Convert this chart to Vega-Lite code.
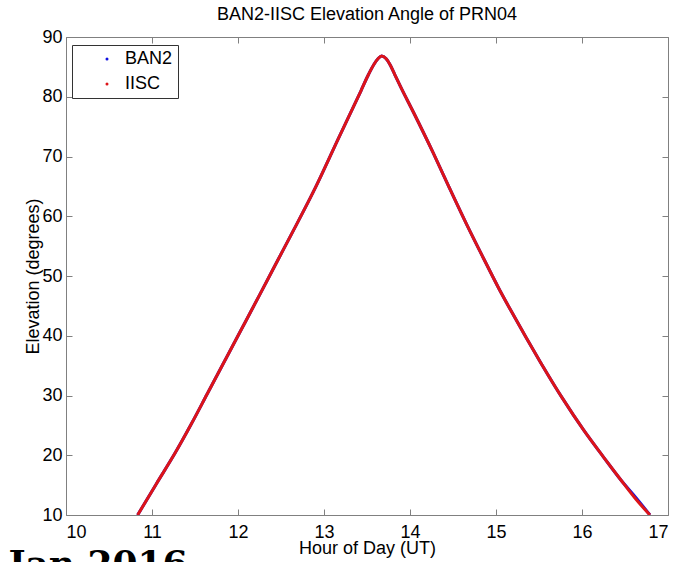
{
  "$schema": "https://vega.github.io/schema/vega-lite/v6.json",
  "autosize": "none",
  "width": 602,
  "height": 478,
  "padding": {"left": 66, "top": 37, "right": 22, "bottom": 47},
  "background": "white",
  "config": {
    "font": "Liberation Sans",
    "view": {"stroke": "#808080", "strokeWidth": 1},
    "axis": {
      "grid": false,
      "domain": false,
      "labelFontSize": 18,
      "titleFontSize": 18,
      "titleFontWeight": "normal",
      "labelColor": "#000",
      "titleColor": "#000",
      "tickColor": "#808080",
      "labelFont": "Liberation Sans",
      "titleFont": "Liberation Sans"
    },
    "title": {"font": "Liberation Sans", "fontSize": 18, "fontWeight": "normal", "color": "#000"}
  },
  "title": {"text": "BAN2-IISC Elevation Angle of PRN04", "offset": 4, "anchor": "middle"},
  "datasets": {
    "track": [
      {"hour": 10.833, "elev": 10.0, "station": "BAN2"},
      {"hour": 11.05, "elev": 15.2, "station": "BAN2"},
      {"hour": 11.27, "elev": 20.4, "station": "BAN2"},
      {"hour": 11.46, "elev": 25.3, "station": "BAN2"},
      {"hour": 11.64, "elev": 30.2, "station": "BAN2"},
      {"hour": 11.82, "elev": 35.1, "station": "BAN2"},
      {"hour": 12.0, "elev": 40.0, "station": "BAN2"},
      {"hour": 12.25, "elev": 46.8, "station": "BAN2"},
      {"hour": 12.45, "elev": 52.3, "station": "BAN2"},
      {"hour": 12.68, "elev": 58.6, "station": "BAN2"},
      {"hour": 12.9, "elev": 64.8, "station": "BAN2"},
      {"hour": 13.16, "elev": 72.8, "station": "BAN2"},
      {"hour": 13.43, "elev": 81.0, "station": "BAN2"},
      {"hour": 13.52, "elev": 83.8, "station": "BAN2"},
      {"hour": 13.58, "elev": 85.4, "station": "BAN2"},
      {"hour": 13.63, "elev": 86.4, "station": "BAN2"},
      {"hour": 13.67, "elev": 86.8, "station": "BAN2"},
      {"hour": 13.72, "elev": 86.4, "station": "BAN2"},
      {"hour": 13.77, "elev": 85.3, "station": "BAN2"},
      {"hour": 13.82, "elev": 83.8, "station": "BAN2"},
      {"hour": 13.9, "elev": 81.4, "station": "BAN2"},
      {"hour": 14.04, "elev": 77.4, "station": "BAN2"},
      {"hour": 14.27, "elev": 70.6, "station": "BAN2"},
      {"hour": 14.45, "elev": 65.0, "station": "BAN2"},
      {"hour": 14.66, "elev": 58.6, "station": "BAN2"},
      {"hour": 14.85, "elev": 53.1, "station": "BAN2"},
      {"hour": 15.03, "elev": 48.0, "station": "BAN2"},
      {"hour": 15.17, "elev": 44.3, "station": "BAN2"},
      {"hour": 15.35, "elev": 39.7, "station": "BAN2"},
      {"hour": 15.52, "elev": 35.5, "station": "BAN2"},
      {"hour": 15.77, "elev": 29.6, "station": "BAN2"},
      {"hour": 16.02, "elev": 24.2, "station": "BAN2"},
      {"hour": 16.25, "elev": 19.7, "station": "BAN2"},
      {"hour": 16.45, "elev": 15.9, "station": "BAN2"},
      {"hour": 16.63, "elev": 12.85, "station": "BAN2"},
      {"hour": 16.79, "elev": 10.0, "station": "BAN2"},
      {"hour": 10.833, "elev": 10.0, "station": "IISC"},
      {"hour": 11.05, "elev": 15.2, "station": "IISC"},
      {"hour": 11.27, "elev": 20.4, "station": "IISC"},
      {"hour": 11.46, "elev": 25.3, "station": "IISC"},
      {"hour": 11.64, "elev": 30.2, "station": "IISC"},
      {"hour": 11.82, "elev": 35.1, "station": "IISC"},
      {"hour": 12.0, "elev": 40.0, "station": "IISC"},
      {"hour": 12.25, "elev": 46.8, "station": "IISC"},
      {"hour": 12.45, "elev": 52.3, "station": "IISC"},
      {"hour": 12.68, "elev": 58.6, "station": "IISC"},
      {"hour": 12.9, "elev": 64.8, "station": "IISC"},
      {"hour": 13.16, "elev": 72.8, "station": "IISC"},
      {"hour": 13.43, "elev": 81.0, "station": "IISC"},
      {"hour": 13.52, "elev": 83.8, "station": "IISC"},
      {"hour": 13.58, "elev": 85.4, "station": "IISC"},
      {"hour": 13.63, "elev": 86.4, "station": "IISC"},
      {"hour": 13.67, "elev": 86.8, "station": "IISC"},
      {"hour": 13.72, "elev": 86.4, "station": "IISC"},
      {"hour": 13.77, "elev": 85.3, "station": "IISC"},
      {"hour": 13.82, "elev": 83.8, "station": "IISC"},
      {"hour": 13.9, "elev": 81.4, "station": "IISC"},
      {"hour": 14.04, "elev": 77.4, "station": "IISC"},
      {"hour": 14.27, "elev": 70.6, "station": "IISC"},
      {"hour": 14.45, "elev": 65.0, "station": "IISC"},
      {"hour": 14.66, "elev": 58.6, "station": "IISC"},
      {"hour": 14.85, "elev": 53.1, "station": "IISC"},
      {"hour": 15.03, "elev": 48.0, "station": "IISC"},
      {"hour": 15.17, "elev": 44.3, "station": "IISC"},
      {"hour": 15.35, "elev": 39.7, "station": "IISC"},
      {"hour": 15.52, "elev": 35.5, "station": "IISC"},
      {"hour": 15.77, "elev": 29.6, "station": "IISC"},
      {"hour": 16.02, "elev": 24.2, "station": "IISC"},
      {"hour": 16.25, "elev": 19.7, "station": "IISC"},
      {"hour": 16.45, "elev": 15.9, "station": "IISC"},
      {"hour": 16.62, "elev": 12.75, "station": "IISC"},
      {"hour": 16.79, "elev": 10.0, "station": "IISC"}
    ],
    "note": [{"label": "Jan 2016", "hour": 9.33, "elev": -0.15}]
  },
  "resolve": {"axis": {"x": "independent", "y": "independent"}},
  "layer": [
    {
      "data": {"name": "track"},
      "mark": {"type": "line", "strokeWidth": 3, "interpolate": "monotone", "clip": true},
      "encoding": {
        "x": {"field": "hour", "type": "quantitative", "scale": {"domain": [10, 17], "nice": false},
              "axis": {"title": "Hour of Day (UT)", "values": [10, 11, 12, 13, 14, 15, 16, 17], "tickSize": -6, "labelPadding": 14, "titlePadding": -2}},
        "y": {"field": "elev", "type": "quantitative", "scale": {"domain": [10, 90], "nice": false},
              "axis": {"title": "Elevation (degrees)", "values": [10, 20, 30, 40, 50, 60, 70, 80, 90], "tickSize": -6, "labelPadding": 10, "titlePadding": -1}},
        "color": {"field": "station", "type": "nominal",
                  "scale": {"domain": ["BAN2", "IISC"], "range": ["#1010e0", "#dd1418"]},
                  "legend": {"title": null, "orient": "none", "legendX": 6, "legendY": 8,
                             "strokeColor": "#333", "fillColor": "white", "padding": 5,
                             "symbolType": "circle", "symbolSize": 2, "symbolOffset": 21,
                             "labelOffset": 9, "labelFontSize": 18, "labelFont": "Liberation Sans",
                             "labelColor": "#000", "rowPadding": 7, "symbolStrokeWidth": 1.6}}
      }
    },
    {
      "data": {"name": "track"},
      "mark": {"type": "point", "opacity": 0},
      "encoding": {
        "x": {"field": "hour", "type": "quantitative", "scale": {"domain": [10, 17], "nice": false},
              "axis": {"orient": "top", "title": null, "labels": false, "values": [10, 11, 12, 13, 14, 15, 16, 17], "tickSize": -6}},
        "y": {"field": "elev", "type": "quantitative", "scale": {"domain": [10, 90], "nice": false},
              "axis": {"orient": "right", "title": null, "labels": false, "values": [10, 20, 30, 40, 50, 60, 70, 80, 90], "tickSize": -6}}
      }
    },
    {
      "data": {"name": "note"},
      "mark": {"type": "text", "align": "left", "baseline": "alphabetic", "font": "DejaVu Serif", "fontWeight": "bold", "fontSize": 36, "color": "#000", "clip": false},
      "encoding": {
        "x": {"field": "hour", "type": "quantitative", "axis": null},
        "y": {"field": "elev", "type": "quantitative", "axis": null},
        "text": {"field": "label"}
      }
    }
  ]
}
